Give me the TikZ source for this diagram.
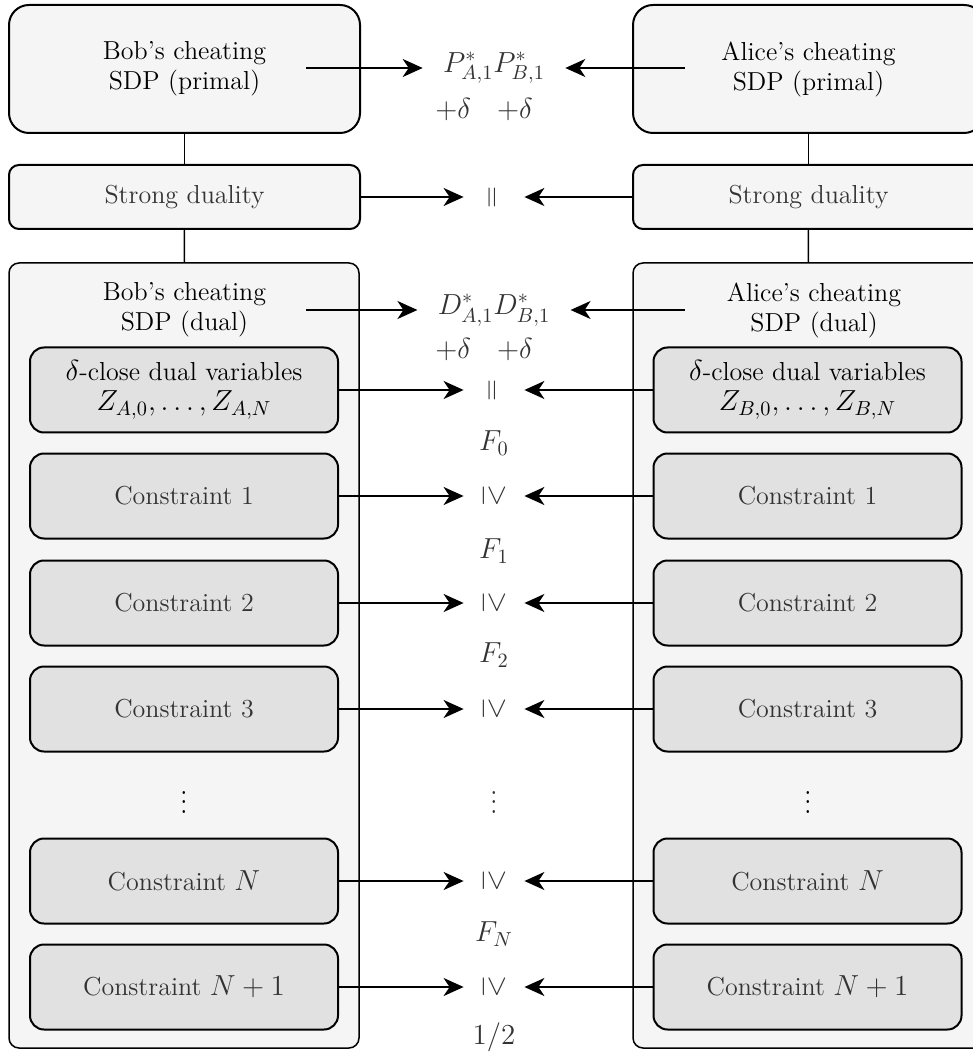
\RequirePackage{fix-cm}
\documentclass[tikz,border=0pt]{standalone}
\usepackage{amsmath,amssymb}
\usetikzlibrary{arrows.meta}
\DeclareMathSizes{13}{14.5}{10.15}{7.25}
\definecolor{boxgray}{HTML}{F5F5F5}
\definecolor{cgray}{HTML}{E1E1E1}
\definecolor{txtgray}{HTML}{333333}
\tikzset{
  every node/.style={font=\fontsize{13}{15}\selectfont},
  topbox/.style={draw,line width=1pt,fill=boxgray,rounded corners=10pt,align=center,
    minimum width=175.5pt,minimum height=64pt,inner sep=0pt},
  sdbox/.style={draw,line width=1pt,fill=boxgray,rounded corners=5pt,text=txtgray,
    minimum width=175.5pt,minimum height=32pt,inner sep=0pt},
  frame/.style={draw,line width=0.75pt,fill=boxgray,rounded corners=5pt,
    minimum width=175pt,minimum height=392.5pt,inner sep=0pt},
  title/.style={align=center,inner sep=0pt},
  cbox/.style={draw,line width=1pt,fill=cgray,rounded corners=7pt,text=txtgray,align=center,
    minimum width=154pt,minimum height=42.5pt,inner sep=0pt},
  lbl/.style={text=txtgray,inner xsep=10pt,inner ysep=0pt},
  rel/.style={text=txtgray,inner sep=0pt,minimum width=30pt,minimum height=30pt},
  dots/.style={yscale=1.2},
  conn/.style={line width=0.75pt},
  arr/.style={line width=1pt,-{Stealth[length=10pt,width=9pt,inset=3pt]}}
}
\begin{document}
\begin{tikzpicture}[x=0.5pt,y=-0.5pt]
\useasboundingbox (0,0) rectangle (972,1052);

% Bob
\path (184.5,69) node[topbox] (bobP) {Bob's cheating\\SDP (primal)};
\path (184.5,197) node[sdbox] (bobSD) {Strong duality};
\path (184,655.5) node[frame] (bobF) {};
\path (184.5,310) node[title] (bobD) {Bob's cheating\\SDP (dual)};
\path (184,390) node[cbox,text=black] (bobZ) {$\delta$-close dual variables\\$Z_{A,0},\ldots,Z_{A,N}$};
\path (184,496) node[cbox] (bobC1) {Constraint 1};
\path (184,603) node[cbox] (bobC2) {Constraint 2};
\path (184,709) node[cbox] (bobC3) {Constraint 3};
\path (184,795) node[dots] (bobV) {$\vdots$};
\path (184,881) node[cbox] (bobCN) {Constraint $N$};
\path (184,987) node[cbox] (bobCM) {Constraint $N+1$};
\coordinate (bobPo) at (306,68);
\coordinate (bobDo) at (306,310);

% Alice
\path (808.5,69) node[topbox] (aliceP) {Alice's cheating\\SDP (primal)};
\path (808.5,197) node[sdbox] (aliceSD) {Strong duality};
\path (808,655.5) node[frame] (aliceF) {};
\path (814,310) node[title] (aliceD) {Alice's cheating\\SDP (dual)};
\path (807.5,390) node[cbox,text=black] (aliceZ) {$\delta$-close dual variables\\$Z_{B,0},\ldots,Z_{B,N}$};
\path (807.5,496) node[cbox] (aliceC1) {Constraint 1};
\path (807.5,603) node[cbox] (aliceC2) {Constraint 2};
\path (807.5,709) node[cbox] (aliceC3) {Constraint 3};
\path (808,795) node[dots] (aliceV) {$\vdots$};
\path (807.5,881) node[cbox] (aliceCN) {Constraint $N$};
\path (807.5,987) node[cbox] (aliceCM) {Constraint $N+1$};
\coordinate (alicePo) at (685,68);
\coordinate (aliceDo) at (685,310);

% middle
\path (494,68) node[lbl] (pst) {$P^*_{A,1}P^*_{B,1}$};
\path (484,110) node[lbl] (pdel) {$+\delta\quad{+\delta}$};
\path (494,197) node[rel,rotate=90] (eqSD) {$=$};
\path (494,310) node[lbl] (dst) {$D^*_{A,1}D^*_{B,1}$};
\path (484,350) node[lbl] (ddel) {$+\delta\quad{+\delta}$};
\path (494,390) node[rel,rotate=90] (eqZ) {$=$};
\path (494,443) node[lbl] (f0) {$F_0$};
\path (494,496) node[rel,rotate=-90] (ge1) {$\geq$};
\path (494,551) node[lbl] (f1) {$F_1$};
\path (494,603) node[rel,rotate=-90] (ge2) {$\geq$};
\path (494,655) node[lbl] (f2) {$F_2$};
\path (494,709) node[rel,rotate=-90] (ge3) {$\geq$};
\path (494,795) node[dots,text=txtgray] (midV) {$\vdots$};
\path (494,881) node[rel,rotate=-90] (geN) {$\geq$};
\path (494,934) node[lbl] (fN) {$F_N$};
\path (494,987) node[rel,rotate=-90] (geM) {$\geq$};
\path (494,1037) node[lbl] (half) {$1/2$};

% column links
\path[conn] (bobP) edge (bobSD);
\path[conn] (bobSD) edge (bobF);
\path[conn] (aliceP) edge (aliceSD);
\path[conn] (aliceSD) edge (aliceF);

% arrows
\path[arr] (bobPo) edge (pst);
\path[arr] (alicePo) edge (pst);
\path[arr] (bobSD) edge (eqSD);
\path[arr] (aliceSD) edge (eqSD);
\path[arr] (bobDo) edge (dst);
\path[arr] (aliceDo) edge (dst);
\path[arr] (bobZ) edge (eqZ);
\path[arr] (aliceZ) edge (eqZ);
\path[arr] (bobC1) edge (ge1);
\path[arr] (aliceC1) edge (ge1);
\path[arr] (bobC2) edge (ge2);
\path[arr] (aliceC2) edge (ge2);
\path[arr] (bobC3) edge (ge3);
\path[arr] (aliceC3) edge (ge3);
\path[arr] (bobCN) edge (geN);
\path[arr] (aliceCN) edge (geN);
\path[arr] (bobCM) edge (geM);
\path[arr] (aliceCM) edge (geM);

\end{tikzpicture}
\end{document}
